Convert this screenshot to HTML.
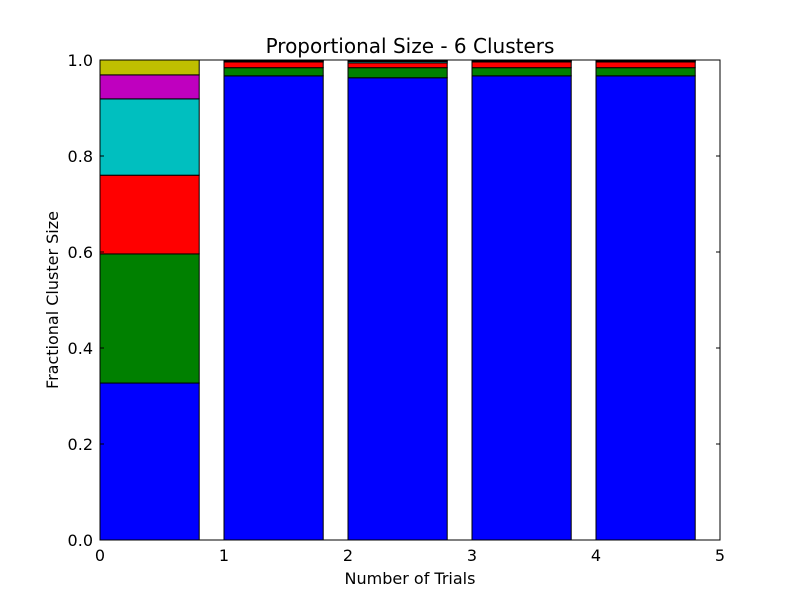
<!DOCTYPE html>
<html><head><meta charset="utf-8"><style>
body{margin:0;background:#fff;}
svg text{font-family:"DejaVu Sans","Liberation Sans",sans-serif;}
</style></head><body>
<svg id="chart" width="800" height="600">
<rect width="800" height="600" fill="#fff"/>
<g id="bars"></g>
<g id="axes"></g>
</svg>
<script>
const categories=[0,1,2,3,4];
const blue=[0.327,0.967,0.963,0.967,0.967];
const green=[0.269,0.017,0.021,0.017,0.017];
const red=[0.164,0.012,0.010,0.012,0.012];
const cyan=[0.159,0.002,0.003,0.002,0.002];
const magenta=[0.050,0.001,0.002,0.001,0.001];
const yellow=[0.031,0.001,0.001,0.001,0.001];
const xTicks=[0,1,2,3,4,5];
const yTicks=[0,0.2,0.4,0.6,0.8,1.0];
const series=[["blue",blue,"#0000ff"],["green",green,"#008000"],["red",red,"#ff0000"],["cyan",cyan,"#00bfbf"],["magenta",magenta,"#bf00bf"],["yellow",yellow,"#bfbf00"]];
const L=100,R=720,T=60,B=540;
const x=v=>L+(R-L)*v/5;
const y=v=>B-(B-T)*v;
const NS="http://www.w3.org/2000/svg";
const bars=document.getElementById('bars'),axes=document.getElementById('axes');
function mk(tag,attrs,parent){const e=document.createElementNS(NS,tag);for(const k in attrs)e.setAttribute(k,attrs[k]);parent.appendChild(e);return e;}
categories.forEach((c,i)=>{let base=0;series.forEach(s=>{const v=s[1][i];
const r=mk('rect',{x:x(c),y:y(base+v),width:x(c+0.8)-x(c),height:y(base)-y(base+v),fill:s[2],stroke:'#000','stroke-width':1},bars);


base+=v;});});
const frame=mk('rect',{x:L,y:T,width:R-L,height:B-T,fill:'none',stroke:'#000','stroke-width':1},axes);


xTicks.forEach(t=>{mk('line',{x1:x(t),x2:x(t),y1:B,y2:B-4,stroke:'#000'},axes);mk('line',{x1:x(t),x2:x(t),y1:T,y2:T+4,stroke:'#000'},axes);
const tx=mk('text',{x:x(t),y:B+21,'font-size':16,'text-anchor':'middle'},axes);tx.textContent=t;

});
yTicks.forEach(t=>{mk('line',{x1:L,x2:L+4,y1:y(t),y2:y(t),stroke:'#000'},axes);mk('line',{x1:R,x2:R-4,y1:y(t),y2:y(t),stroke:'#000'},axes);
const tx=mk('text',{x:L-7,y:y(t)+6,'font-size':16,'text-anchor':'end'},axes);tx.textContent=t.toFixed(1);

});
const ti=mk('text',{x:410,y:53,'font-size':20,'text-anchor':'middle'},axes);ti.textContent='Proportional Size - 6 Clusters';


const xl=mk('text',{x:410,y:584,'font-size':16,'text-anchor':'middle'},axes);xl.textContent='Number of Trials';


const yl=mk('text',{x:58,y:300,'font-size':16,'text-anchor':'middle',transform:'rotate(-90 58 300)'},axes);yl.textContent='Fractional Cluster Size';


</script>
</body></html>
